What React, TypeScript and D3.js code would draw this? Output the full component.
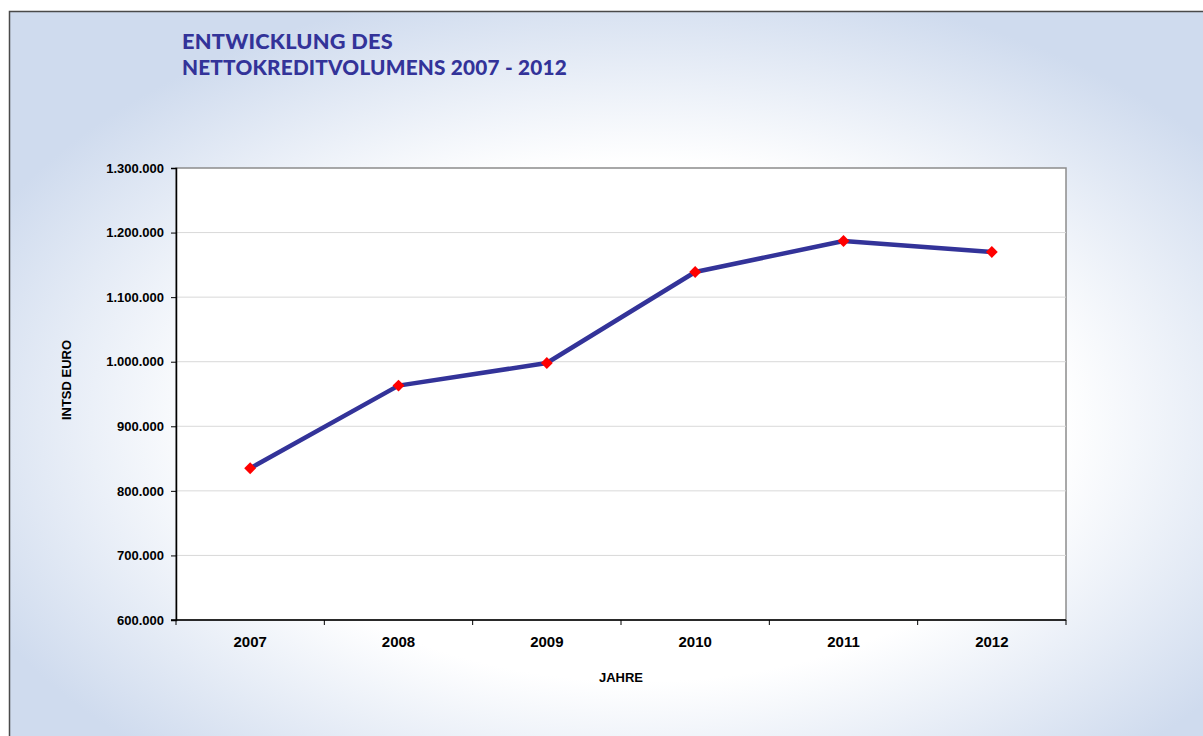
import * as d3 from "d3";
import { useEffect, useRef } from "react";

const width = 1203,
  height = 736,
  marginTop = 168,
  marginRight = 137,
  marginBottom = 116,
  marginLeft = 176;

const years = ["2007", "2008", "2009", "2010", "2011", "2012"];
const volumes = [835000, 963000, 998000, 1139000, 1187000, 1170000];
const yTicks = [600000, 700000, 800000, 900000, 1000000, 1100000, 1200000, 1300000];
const titleLines = ["ENTWICKLUNG DES", "NETTOKREDITVOLUMENS 2007 - 2012"];

const fmt = (v: number) => d3.format(",")(v).replace(/,/g, ".");

export default function App() {
  const ref = useRef<SVGSVGElement | null>(null);

  useEffect(() => {
    if (!ref.current) return;
    const svg = d3.select(ref.current);
    svg.selectAll("*").remove();

    // background gradient
    const defs = svg.append("defs");
    const grad = defs
      .append("radialGradient")
      .attr("id", "bg")
      .attr("cx", "52%")
      .attr("cy", "55%")
      .attr("r", "60%")
      .attr("fx", "52%")
      .attr("fy", "55%");
    grad.append("stop").attr("offset", "0%").attr("stop-color", "#ffffff");
    grad.append("stop").attr("offset", "58%").attr("stop-color", "#ffffff");
    grad.append("stop").attr("offset", "100%").attr("stop-color", "#cfdbee");

    svg
      .append("rect")
      .attr("x", 9.5)
      .attr("y", 11.5)
      .attr("width", width + 10)
      .attr("height", height + 10)
      .attr("fill", "url(#bg)")
      .attr("stroke", "#4a4a4a")
      .attr("stroke-width", 1.5);

    // title
    svg
      .append("g")
      .selectAll("text")
      .data(titleLines)
      .join("text")
      .attr("x", 182)
      .attr("y", (_, i) => 49 + i * 26)
      .attr("fill", "#333399")
      .attr("font-family", "Lato, 'Open Sans', sans-serif")
      .attr("font-weight", 900)
      .attr("font-size", 20)
      .attr("letter-spacing", 0.2)
      .attr("textLength", (_, i) => (i === 0 ? 211 : 385))
      .attr("lengthAdjust", "spacingAndGlyphs")
      .text((d) => d);

    const x = d3
      .scaleBand()
      .domain(years)
      .range([marginLeft, width - marginRight]);
    const y = d3
      .scaleLinear()
      .domain([600000, 1300000])
      .range([height - marginBottom, marginTop]);

    // plot area
    svg
      .append("rect")
      .attr("x", marginLeft)
      .attr("y", marginTop)
      .attr("width", width - marginLeft - marginRight)
      .attr("height", height - marginTop - marginBottom)
      .attr("fill", "#ffffff")
      .attr("stroke", "#8c8c8c")
      .attr("stroke-width", 1.5);

    // grid lines
    svg
      .append("g")
      .selectAll("line")
      .data(yTicks.slice(1, -1))
      .join("line")
      .attr("x1", marginLeft)
      .attr("x2", width - marginRight)
      .attr("y1", (d) => y(d))
      .attr("y2", (d) => y(d))
      .attr("stroke", "#d9d9d9")
      .attr("stroke-width", 1);

    const font = "Arial, 'Liberation Sans', sans-serif";

    // y axis
    svg
      .append("g")
      .attr("transform", `translate(${marginLeft},0)`)
      .call(
        d3
          .axisLeft(y)
          .tickValues(yTicks)
          .tickSize(5)
          .tickPadding(7)
          .tickFormat((d) => fmt(d as number))
      )
      .call((g) => g.select(".domain").attr("stroke", "#000").attr("stroke-width", 1.5))
      .call((g) => g.selectAll(".tick line").attr("stroke", "#000"))
      .call((g) =>
        g
          .selectAll(".tick text")
          .attr("font-family", font)
          .attr("font-weight", "bold")
          .attr("font-size", 13)
          .attr("fill", "#000")
      );

    // x axis
    const xAxis = svg
      .append("g")
      .attr("transform", `translate(0,${height - marginBottom})`);
    xAxis
      .append("line")
      .attr("x1", marginLeft - 5)
      .attr("x2", width - marginRight)
      .attr("stroke", "#000")
      .attr("stroke-width", 1.5);
    xAxis
      .selectAll("line.tk")
      .data(years.concat(["end"]))
      .join("line")
      .attr("class", "tk")
      .attr("x1", (d, i) => (i < years.length ? x(d)! : width - marginRight))
      .attr("x2", (d, i) => (i < years.length ? x(d)! : width - marginRight))
      .attr("y1", 0)
      .attr("y2", 5)
      .attr("stroke", "#000");
    xAxis
      .selectAll("text")
      .data(years)
      .join("text")
      .attr("x", (d) => x(d)! + x.bandwidth() / 2)
      .attr("y", 27)
      .attr("text-anchor", "middle")
      .attr("font-family", font)
      .attr("font-weight", "bold")
      .attr("font-size", 15)
      .text((d) => d);

    // axis titles
    svg
      .append("text")
      .attr("x", (marginLeft + width - marginRight) / 2)
      .attr("y", 682)
      .attr("text-anchor", "middle")
      .attr("font-family", font)
      .attr("font-weight", "bold")
      .attr("font-size", 13)
      .text("JAHRE");
    svg
      .append("text")
      .attr("transform", `translate(71,380) rotate(-90)`)
      .attr("text-anchor", "middle")
      .attr("font-family", font)
      .attr("font-weight", "bold")
      .attr("font-size", 13)
      .text("INTSD EURO");

    // line
    const pts = years.map((yr, i) => [x(yr)! + x.bandwidth() / 2, y(volumes[i])] as [number, number]);
    svg
      .append("path")
      .attr("fill", "none")
      .attr("stroke", "#333399")
      .attr("stroke-width", 4.5)
      .attr("stroke-linejoin", "round")
      .attr("d", d3.line()(pts));

    // markers
    svg
      .append("g")
      .selectAll("path")
      .data(pts)
      .join("path")
      .attr("transform", (d) => `translate(${d[0]},${d[1]})`)
      .attr("d", d3.symbol(d3.symbolDiamond2, 90)())
      .attr("fill", "#ff0000");
  }, []);

  return (
    <svg
      ref={ref}
      width={width}
      height={height}
      style={{ position: "absolute", left: 0, top: 0, display: "block" }}
    />
  );
}
